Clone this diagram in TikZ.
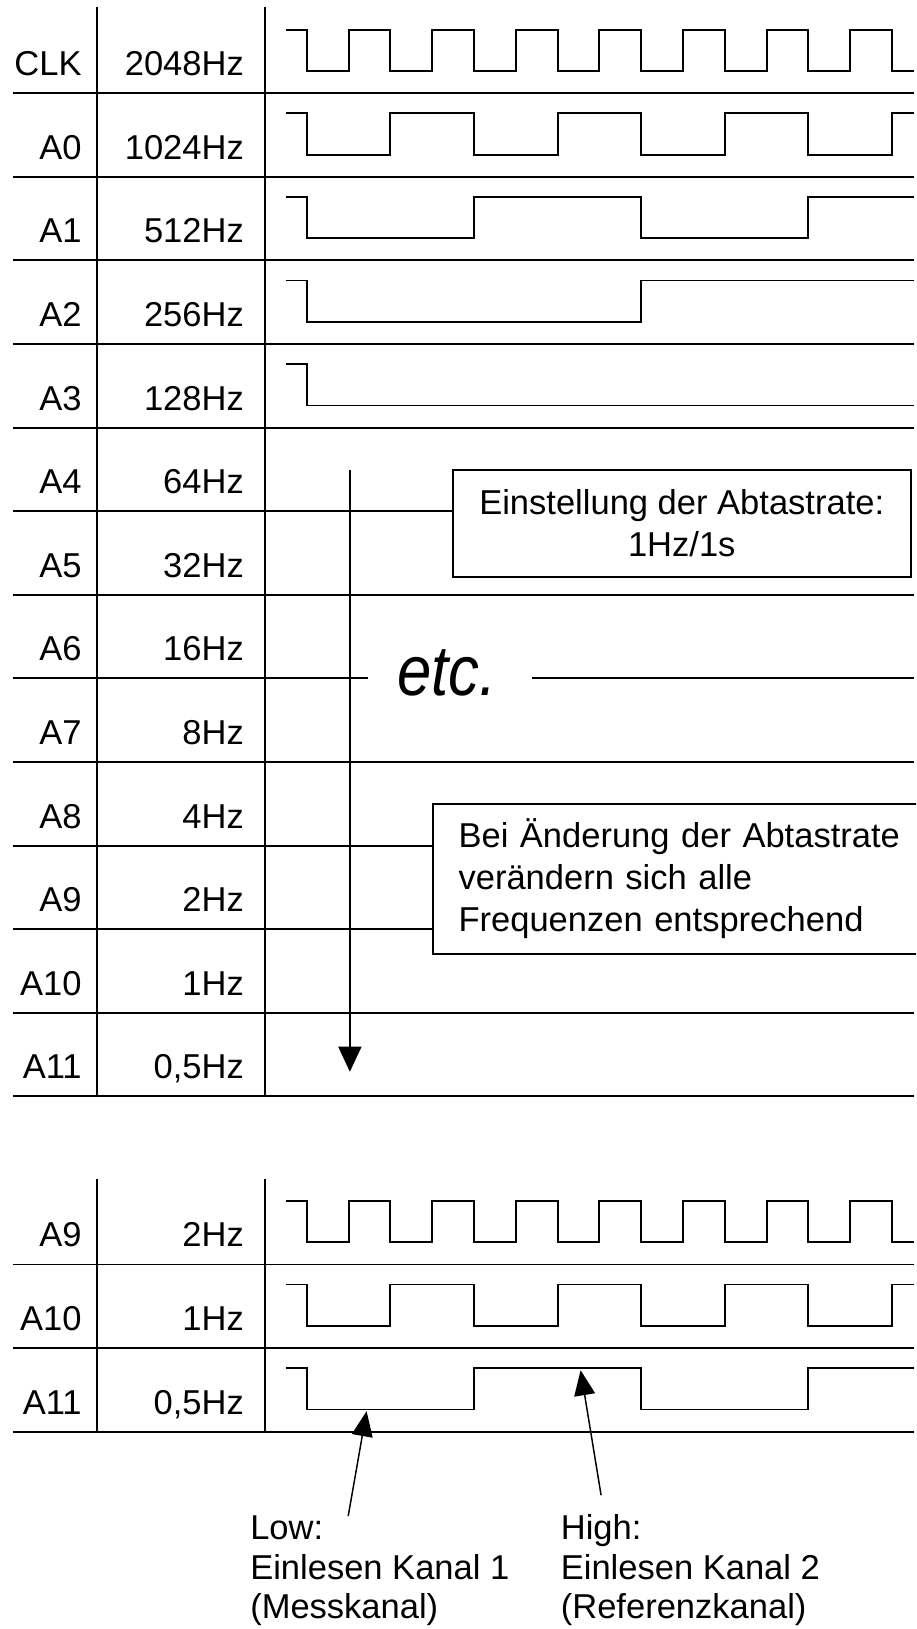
\documentclass[tikz,border=0pt]{standalone}
\usepackage{fontspec}
\setmainfont{Liberation Sans}
\usetikzlibrary{arrows.meta}

\begin{document}
\begin{tikzpicture}[font=\fontsize{23.5}{28.45}\selectfont,
  grid/.style={line width=1.3pt},
  wave/.style={line width=1.3pt},
  sig/.style={anchor=base east, inner sep=0pt},
  note/.style={draw, line width=1.3pt, inner ysep=0pt},
  lbl/.style={anchor=base west, align=left, inner sep=0pt,
              font=\fontsize{23.5}{26.6}\selectfont},
  arr/.style={-{Triangle[length=0.6cm, width=0.55cm]}, line width=1.2pt},
  tarr/.style={-{Triangle[length=0.6cm, width=0.5cm]}, line width=1pt}
]
  \useasboundingbox (0,0) rectangle (21.914,-38.971);
  \clip (0,0) rectangle (21.914,-38.971);

  % --- Tabelle oben ---
  \draw[grid] (2.33,-0.17) -- (2.33,-26.23);
  \draw[grid] (6.33,-0.17) -- (6.33,-26.23);

  \node[sig] (clk)  at (1.96,-1.81)  {CLK};
  \node[sig] (a0)   at (1.96,-3.81)  {A0};
  \node[sig] (a1)   at (1.96,-5.81)  {A1};
  \node[sig] (a2)   at (1.96,-7.81)  {A2};
  \node[sig] (a3)   at (1.96,-9.81)  {A3};
  \node[sig] (a4)   at (1.96,-11.81) {A4};
  \node[sig] (a5)   at (1.96,-13.81) {A5};
  \node[sig] (a6)   at (1.96,-15.81) {A6};
  \node[sig] (a7)   at (1.96,-17.81) {A7};
  \node[sig] (a8)   at (1.96,-19.81) {A8};
  \node[sig] (a9)   at (1.96,-21.81) {A9};
  \node[sig] (a10)  at (1.96,-23.81) {A10};
  \node[sig] (a11)  at (1.96,-25.81) {A11};

  \node[sig] (fclk) at (5.84,-1.81)  {2048Hz};
  \node[sig] (fa0)  at (5.84,-3.81)  {1024Hz};
  \node[sig] (fa1)  at (5.84,-5.81)  {512Hz};
  \node[sig] (fa2)  at (5.84,-7.81)  {256Hz};
  \node[sig] (fa3)  at (5.84,-9.81)  {128Hz};
  \node[sig] (fa4)  at (5.84,-11.81) {64Hz};
  \node[sig] (fa5)  at (5.84,-13.81) {32Hz};
  \node[sig] (fa6)  at (5.84,-15.81) {16Hz};
  \node[sig] (fa7)  at (5.84,-17.81) {8Hz};
  \node[sig] (fa8)  at (5.84,-19.81) {4Hz};
  \node[sig] (fa9)  at (5.84,-21.81) {2Hz};
  \node[sig] (fa10) at (5.84,-23.81) {1Hz};
  \node[sig] (fa11) at (5.84,-25.81) {0,5Hz};

  % --- Hinweise ---
  \node[note, minimum width=10.96cm, minimum height=2.57cm, align=center]
        (rate) at (16.31,-12.525) {Einstellung der Abtastrate:\\1Hz/1s};
  \node[note, text width=10.62cm, inner xsep=0.61cm, minimum height=3.59cm, align=left]
        (change) at (16.28,-21.025)
        {Bei Änderung der Abtastrate\\verändern sich alle\\Frequenzen entsprechend};
  \node[font=\fontsize{42}{50}\selectfont\itshape, anchor=base, inner sep=0pt,
        yscale=1.15, transform shape] (etc) at (10.69,-16.63) {etc.};

  \draw[grid] (0.31,-2.23)  -- (21.87,-2.23);
  \draw[grid] (0.31,-4.23)  -- (21.87,-4.23);
  \draw[grid] (0.31,-6.23)  -- (21.87,-6.23);
  \draw[grid] (0.31,-8.23)  -- (21.87,-8.23);
  \draw[grid] (0.31,-10.23) -- (21.87,-10.23);
  \draw[grid] (0.31,-12.23) -- (rate.west |- 0,-12.23);
  \draw[grid] (0.31,-14.23) -- (21.87,-14.23);
  \draw[grid] (0.31,-16.23) -- (8.81,-16.23);
  \draw[grid] (12.72,-16.23) -- (21.87,-16.23);
  \draw[grid] (0.31,-18.23) -- (21.87,-18.23);
  \draw[grid] (0.31,-20.23) -- (change.west |- 0,-20.23);
  \draw[grid] (0.31,-22.23) -- (change.west |- 0,-22.23);
  \draw[grid] (0.31,-24.23) -- (21.87,-24.23);
  \draw[grid] (0.31,-26.23) -- (21.87,-26.23);

  % --- Signale oben ---
  \draw[wave] (6.84,-0.71) -| (7.34,-1.70) -| (8.34,-0.71) -| (9.34,-1.70)
    -| (10.34,-0.71) -| (11.34,-1.70) -| (12.34,-0.71) -| (13.34,-1.70)
    -| (14.34,-0.71) -| (15.34,-1.70) -| (16.34,-0.71) -| (17.34,-1.70)
    -| (18.34,-0.71) -| (19.34,-1.70) -| (20.34,-0.71) -| (21.34,-1.70)
    -- (21.87,-1.70);
  \draw[wave] (6.84,-2.71) -| (7.34,-3.70) -| (9.34,-2.71) -| (11.34,-3.70)
    -| (13.34,-2.71) -| (15.34,-3.70) -| (17.34,-2.71) -| (19.34,-3.70)
    -| (21.34,-2.71) -- (21.87,-2.71);
  \draw[wave] (6.84,-4.71) -| (7.34,-5.70) -| (11.34,-4.71) -| (15.34,-5.70)
    -| (19.34,-4.71) -- (21.87,-4.71);
  \draw[wave] (6.84,-6.71) -| (7.34,-7.70) -| (15.34,-6.71) -- (21.87,-6.71);
  \draw[wave] (6.84,-8.71) -| (7.34,-9.70) -- (21.87,-9.70);

  \coordinate (dtop) at (8.37,-11.24);
  \coordinate (dend) at (8.37,-25.64);
  \draw[arr] (dtop) -- (dend);

  % --- Tabelle unten ---
  \draw[grid] (2.33,-28.21) -- (2.33,-34.25);
  \draw[grid] (6.33,-28.21) -- (6.33,-34.25);
  \draw[grid] (0.31,-30.25) -- (21.87,-30.25);
  \draw[grid] (0.31,-32.25) -- (21.87,-32.25);
  \draw[grid] (0.31,-34.25) -- (21.87,-34.25);

  \node[sig] (b9)   at (1.96,-29.83) {A9};
  \node[sig] (b10)  at (1.96,-31.83) {A10};
  \node[sig] (b11)  at (1.96,-33.83) {A11};
  \node[sig] (fb9)  at (5.84,-29.83) {2Hz};
  \node[sig] (fb10) at (5.84,-31.83) {1Hz};
  \node[sig] (fb11) at (5.84,-33.83) {0,5Hz};

  \draw[wave] (6.84,-28.73) -| (7.34,-29.72) -| (8.34,-28.73) -| (9.34,-29.72)
    -| (10.34,-28.73) -| (11.34,-29.72) -| (12.34,-28.73) -| (13.34,-29.72)
    -| (14.34,-28.73) -| (15.34,-29.72) -| (16.34,-28.73) -| (17.34,-29.72)
    -| (18.34,-28.73) -| (19.34,-29.72) -| (20.34,-28.73) -| (21.34,-29.72)
    -- (21.87,-29.72);
  \draw[wave] (6.84,-30.73) -| (7.34,-31.72) -| (9.34,-30.73) -| (11.34,-31.72)
    -| (13.34,-30.73) -| (15.34,-31.72) -| (17.34,-30.73) -| (19.34,-31.72)
    -| (21.34,-30.73) -- (21.87,-30.73);
  \draw[wave] (6.84,-32.73) -| (7.34,-33.72) -| (11.34,-32.73) -| (15.34,-33.72)
    -| (19.34,-32.73) -- (21.87,-32.73);

  % --- Kanalauswahl ---
  \node[lbl] (low)  at (5.98,-38.71)  {Low:\\Einlesen Kanal 1\\(Messkanal)};
  \node[lbl] (high) at (13.41,-38.71) {High:\\Einlesen Kanal 2\\(Referenzkanal)};

  \coordinate (lowfoot)  at (8.33,-36.27);
  \coordinate (lowtip)   at (8.77,-33.76);
  \coordinate (highfoot) at (14.38,-35.77);
  \coordinate (hightip)  at (13.89,-32.78);
  \draw[tarr] (lowfoot) -- (lowtip);
  \draw[tarr] (highfoot) -- (hightip);
\end{tikzpicture}
\end{document}
